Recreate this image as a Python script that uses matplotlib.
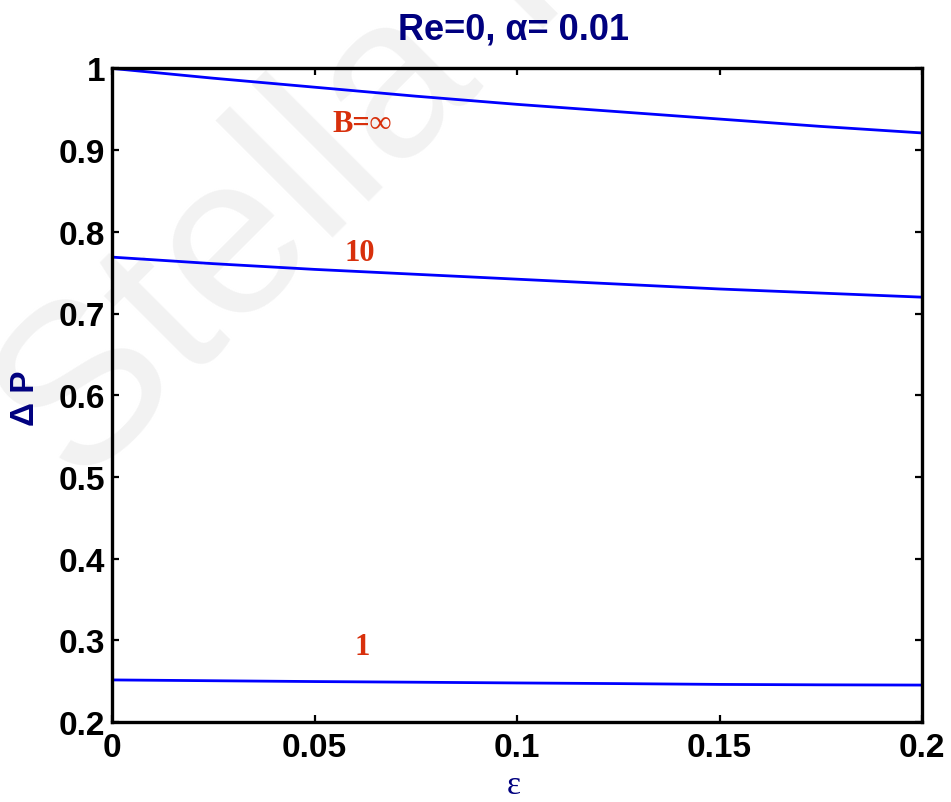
import matplotlib
matplotlib.use("Agg")
import matplotlib.pyplot as plt

# Pressure rise versus amplitude ratio for three Bingham numbers
eps = [0.0, 0.025, 0.05, 0.075, 0.1, 0.125, 0.15, 0.175, 0.2]
dp_inf = [1.000, 0.988, 0.977, 0.966, 0.956, 0.947, 0.938, 0.929, 0.921]
dp_10 = [0.769, 0.761, 0.754, 0.748, 0.742, 0.736, 0.730, 0.725, 0.720]
dp_1 = [0.2515, 0.2505, 0.2495, 0.2487, 0.2478, 0.2470, 0.2460, 0.2455, 0.2452]

curve_labels = ["B=\u221e", "10", "1"]
label_pos = [(0.0617, 0.933), (0.0612, 0.775), (0.0617, 0.292)]

xticks = [0, 0.05, 0.1, 0.15, 0.2]
xticklabels = ["0", "0.05", "0.1", "0.15", "0.2"]
yticks = [0.2, 0.3, 0.4, 0.5, 0.6, 0.7, 0.8, 0.9, 1.0]
yticklabels = ["0.2", "0.3", "0.4", "0.5", "0.6", "0.7", "0.8", "0.9", "1"]

navy = "#00007f"
label_red = "#d8300c"
line_blue = "#0000ff"

fig = plt.figure(figsize=(9.51, 8.03), dpi=100)

# faint background stamp
fig.text(-0.04, 0.405, "Stella Press", rotation=45, fontsize=165,
         color="#f2f2f2", family="Liberation Sans", ha="left", va="baseline",
         zorder=-5)

ax = fig.add_axes([112 / 951, 80 / 803, 810 / 951, 653.6 / 803])
ax.patch.set_alpha(0)

for series in (dp_inf, dp_10, dp_1):
    ax.plot(eps, series, color=line_blue, lw=2.0)

for text, (x, y) in zip(curve_labels, label_pos):
    ax.text(x, y, text, color=label_red, fontsize=22, fontweight="bold",
            family=["Liberation Serif", "DejaVu Serif"],
            ha="center", va="center")

ax.set_xlim(0, 0.2)
ax.set_ylim(0.2, 1.0)
ax.set_xticks(xticks)
ax.set_xticklabels(xticklabels)
ax.set_yticks(yticks)
ax.set_yticklabels(yticklabels)

for lab in ax.get_xticklabels() + ax.get_yticklabels():
    lab.set_fontfamily("Liberation Sans")
    lab.set_fontweight("bold")
    lab.set_fontsize(24)

ax.tick_params(direction="in", top=True, right=True, length=5, width=1.6,
               pad=5, colors="black")
ax.tick_params(axis="x", pad=7)
for sp in ax.spines.values():
    sp.set_linewidth(2.4)

fig.text(513 / 951, 1 - 30 / 803, "Re=0, \u03b1= 0.01", color=navy,
         fontsize=26, fontweight="bold", family="Liberation Sans",
         ha="center", va="center")
fig.text(25 / 951, 1 - 398 / 803, "\u0394 P", color=navy, rotation=90,
         fontsize=24, fontweight="bold", family="Liberation Sans",
         ha="center", va="center")
fig.text(514 / 951, 1 - 786 / 803, "\u03b5", color=navy, fontsize=24,
         family="Liberation Serif", ha="center", va="center")

fig.savefig("out.png", dpi=100)
